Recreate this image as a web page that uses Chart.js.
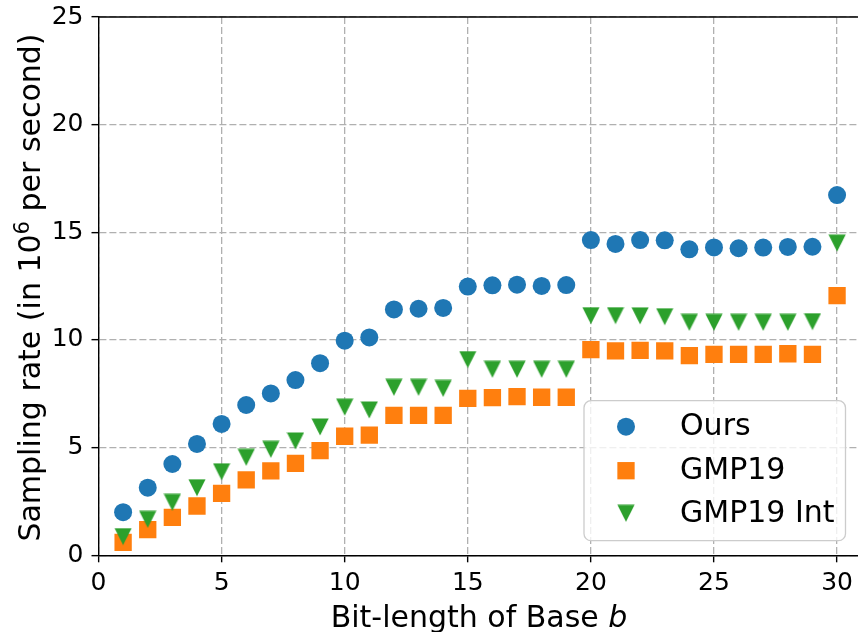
<!DOCTYPE html>
<html>
<head>
<meta charset="utf-8">
<script src="https://cdn.jsdelivr.net/npm/chart.js@4/dist/chart.umd.min.js"></script>
<style>
  body { margin: 0; background: #fff; }
  #myChart { display: block; }
</style>
</head>
<body>
<canvas id="myChart" width="858" height="632"></canvas>
<script>
// bit-length of base b
var bits = [1, 2, 3, 4, 5, 6, 7, 8, 9, 10, 11, 12, 13, 14, 15, 16, 17, 18, 19, 20, 21, 22, 23, 24, 25, 26, 27, 28, 29, 30];

// sampling rate, 10^6 per second
var ours = [2.0, 3.14, 4.24, 5.17, 6.1, 6.98, 7.52, 8.14, 8.92, 9.97, 10.12, 11.42, 11.45, 11.49, 12.48, 12.54, 12.57, 12.51, 12.55, 14.64, 14.46, 14.64, 14.63, 14.21, 14.3, 14.26, 14.29, 14.32, 14.33, 16.73];
var gmp19 = [0.6, 1.19, 1.76, 2.29, 2.88, 3.5, 3.92, 4.27, 4.86, 5.53, 5.58, 6.5, 6.5, 6.5, 7.29, 7.32, 7.37, 7.34, 7.34, 9.55, 9.49, 9.52, 9.49, 9.27, 9.33, 9.33, 9.33, 9.36, 9.33, 12.06];
var gmp19Int = [0.87, 1.67, 2.46, 3.14, 3.88, 4.55, 4.92, 5.31, 5.96, 6.88, 6.75, 7.8, 7.8, 7.75, 9.09, 8.64, 8.64, 8.64, 8.64, 11.13, 11.13, 11.12, 11.08, 10.82, 10.82, 10.82, 10.82, 10.82, 10.85, 14.5];

var seriesNames = ['Ours', 'GMP19', 'GMP19 Int'];
var xTicks = [0, 5, 10, 15, 20, 25, 30];
var yTicks = [0, 5, 10, 15, 20, 25];

const BLUE = '#1f77b4';
const ORANGE = '#ff7f0e';
const GREEN = '#2ca02c';
const FONT = "'DejaVu Sans', sans-serif";

// down-pointing triangle, centred in its box like matplotlib 'v'
function makeTriangle(color) {
    var c = document.createElement('canvas');
    c.width = 18;
    c.height = 18;
    var g = c.getContext('2d');
    g.fillStyle = color;
    g.beginPath();
    g.moveTo(0.4, 0.6);
    g.lineTo(17.6, 0.6);
    g.lineTo(9, 17.4);
    g.closePath();
    g.fill();
    return c;
}
var triImg = makeTriangle(GREEN);

function toPoints(arr) {
    return bits.map((b, i) => ({ x: b, y: arr[i] }));
}

function noPadding(scale) {
    scale.paddingLeft = 0;
    scale.paddingRight = 0;
    scale.paddingTop = 0;
    scale.paddingBottom = 0;
}

// titles, top spine and legend box
const extras = {
    id: 'extras',
    afterDraw(chart) {
        const ctx = chart.ctx;
        const a = chart.chartArea;
        ctx.save();

        // top spine
        ctx.strokeStyle = '#000';
        ctx.lineWidth = 1.4;
        ctx.beginPath();
        ctx.moveTo(a.left, a.top);
        ctx.lineTo(a.right, a.top);
        ctx.stroke();

        ctx.fillStyle = '#000';
        ctx.textBaseline = 'alphabetic';

        // x title with italic b
        var p1 = 'Bit-length of Base ';
        ctx.font = '30px ' + FONT;
        var w1 = ctx.measureText(p1).width;
        ctx.font = 'oblique 30px ' + FONT;
        var w2 = ctx.measureText('b').width;
        var x0 = 479 - (w1 + w2) / 2;
        ctx.font = '30px ' + FONT;
        ctx.textAlign = 'left';
        ctx.fillText(p1, x0, 626.5);
        ctx.font = 'oblique 30px ' + FONT;
        ctx.fillText('b', x0 + w1, 626.5);

        // y title with superscript 6
        ctx.translate(39.5, 287.5);
        ctx.rotate(-Math.PI / 2);
        var s1 = 'Sampling rate (in 10';
        var s2 = '6';
        var s3 = ' per second)';
        ctx.font = '30px ' + FONT;
        var a1 = ctx.measureText(s1).width;
        var a3 = ctx.measureText(s3).width;
        ctx.font = '21px ' + FONT;
        var a2 = ctx.measureText(s2).width;
        var sx = -(a1 + a2 + a3) / 2;
        ctx.font = '30px ' + FONT;
        ctx.fillText(s1, sx, 0);
        ctx.font = '21px ' + FONT;
        ctx.fillText(s2, sx + a1, -11);
        ctx.font = '30px ' + FONT;
        ctx.fillText(s3, sx + a1 + a2, 0);
        ctx.restore();

        // legend
        ctx.save();
        var bx = 584, by = 400.7, bw = 261.5, bh = 140, r = 7;
        ctx.beginPath();
        ctx.moveTo(bx + r, by);
        ctx.arcTo(bx + bw, by, bx + bw, by + bh, r);
        ctx.arcTo(bx + bw, by + bh, bx, by + bh, r);
        ctx.arcTo(bx, by + bh, bx, by, r);
        ctx.arcTo(bx, by, bx + bw, by, r);
        ctx.closePath();
        ctx.fillStyle = 'rgba(255,255,255,0.8)';
        ctx.fill();
        ctx.strokeStyle = '#cccccc';
        ctx.lineWidth = 1.3;
        ctx.stroke();

        var rows = [426.7, 470.7, 513.3];
        var mx = 626;
        ctx.fillStyle = BLUE;
        ctx.beginPath();
        ctx.arc(mx, rows[0], 9, 0, Math.PI * 2);
        ctx.fill();
        ctx.fillStyle = ORANGE;
        ctx.fillRect(mx - 8.65, rows[1] - 8.65, 17.3, 17.3);
        ctx.drawImage(triImg, mx - 9, rows[2] - 9);

        ctx.fillStyle = '#000';
        ctx.font = '30px ' + FONT;
        ctx.textAlign = 'left';
        seriesNames.forEach((n, i) => {
            ctx.fillText(n, 680, rows[i] + 8.5);
        });
        ctx.restore();
    }
};

const gridStyle = {
    color: '#b0b0b0',
    lineWidth: 1.3,
    tickColor: '#000',
    tickWidth: 1.4,
    tickLength: 7,
    tickBorderDash: []
};
// axis line solid, grid lines dashed (v4 keeps the dash under border)
const borderStyle = { color: '#000', width: 1.4, dash: [7, 3] };

const ctx = document.getElementById('myChart').getContext('2d');
var myChart = new Chart(ctx, {
    type: 'scatter',
    data: {
        datasets: [{
            label: seriesNames[0],
            data: toPoints(ours),
            pointStyle: 'circle',
            pointRadius: 9,
            backgroundColor: BLUE,
            borderColor: BLUE,
            borderWidth: 0,
            order: 3
        }, {
            label: seriesNames[1],
            data: toPoints(gmp19),
            pointStyle: 'rect',
            pointRadius: 12.25,
            backgroundColor: ORANGE,
            borderColor: ORANGE,
            borderWidth: 0,
            order: 2
        }, {
            label: seriesNames[2],
            data: toPoints(gmp19Int),
            pointStyle: triImg,
            pointRadius: 9,
            backgroundColor: GREEN,
            borderColor: GREEN,
            order: 1
        }]
    },
    options: {
        responsive: false,
        animation: false,
        devicePixelRatio: 1,
        events: [],
        layout: {
            autoPadding: false,
            padding: { top: 17, right: 0, bottom: 0, left: 0 }
        },
        scales: {
            x: {
                type: 'linear',
                min: 0,
                max: 30.85,
                grid: gridStyle,
                border: borderStyle,
                ticks: {
                    color: '#000',
                    font: { family: FONT, size: 25 },
                    padding: 6,
                    maxRotation: 0
                },
                afterBuildTicks: function (scale) {
                    scale.ticks = xTicks.map(v => ({ value: v }));
                },
                afterFit: function (scale) {
                    scale.height = 76.7;
                    noPadding(scale);
                }
            },
            y: {
                min: 0,
                max: 25,
                grid: gridStyle,
                border: borderStyle,
                ticks: {
                    color: '#000',
                    font: { family: FONT, size: 25 },
                    padding: 8
                },
                afterBuildTicks: function (scale) {
                    scale.ticks = yTicks.map(v => ({ value: v }));
                },
                afterFit: function (scale) {
                    scale.width = 98.5;
                    noPadding(scale);
                }
            }
        },
        plugins: {
            legend: { display: false },
            tooltip: { enabled: false }
        }
    },
    plugins: [extras]
});
</script>
</body>
</html>
